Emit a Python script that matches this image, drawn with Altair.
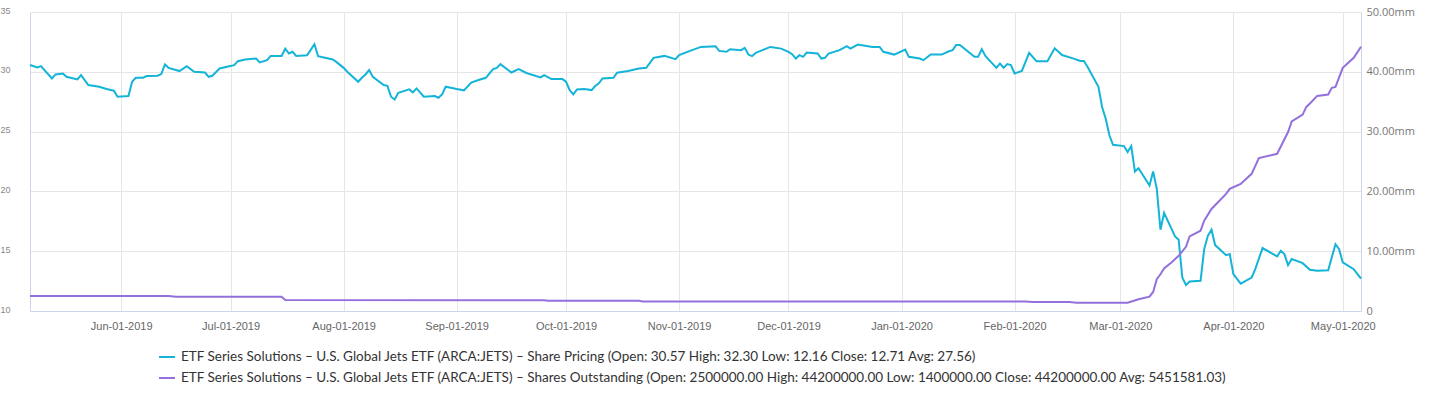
import altair as alt
import pandas as pd

# ---- data (days counted from 2019-05-07) ----
START = "2019-05-07"

price_day = [0, 2, 3, 6, 7, 9, 10, 13, 14, 16, 19, 21, 23, 24, 27, 28, 29, 31, 32, 35,
             36, 37, 38, 41, 43, 45, 48, 49, 50, 52, 54, 56, 57, 59, 62, 63, 65, 66, 69, 70,
             71, 72, 73, 76, 78, 79, 83, 84, 86, 87, 90, 91, 92, 93, 94, 97, 98, 99, 100, 101,
             104, 105, 106, 108, 111, 112, 113, 114, 117, 119, 121, 123, 125, 127, 128, 129, 132, 134, 136, 137,
             140, 141, 143, 146, 147, 148, 149, 150, 152, 154, 155, 156, 157, 160, 161, 164, 167, 169, 171, 174,
             177, 178, 181, 184, 188, 189, 191, 192, 195, 196, 197, 198, 199, 203, 206, 208, 209, 210, 211, 212,
             213, 216, 217, 218, 219, 222, 224, 225, 227, 231, 233, 234, 237, 240, 241, 244, 245, 247, 250, 252,
             253, 254, 255, 259, 260, 261, 262, 265, 266, 267, 268, 269, 270, 272, 274, 276, 279, 281, 283, 286,
             288, 289, 290, 293, 294, 295, 296, 297, 300, 301, 302, 303, 304, 307, 308, 309, 310, 311, 314, 315,
             316, 317, 318, 321, 322, 323, 324, 325, 328, 329, 330, 332, 335, 336, 338, 342, 343, 344, 345, 346,
             349, 351, 353, 356, 358, 359, 360, 363, 365]

price_value = [30.57, 30.36, 30.47, 29.44, 29.78, 29.86, 29.58, 29.36, 29.72, 28.89, 28.75, 28.56, 28.42, 27.92, 27.97, 29.17, 29.50, 29.50, 29.64, 29.67,
               29.81, 30.61, 30.33, 30.06, 30.47, 30.00, 29.94, 29.58, 29.67, 30.28, 30.42, 30.56, 30.89, 31.03, 31.11, 30.78, 30.97, 31.33, 31.33, 31.94,
               31.53, 31.67, 31.33, 31.39, 32.30, 31.31, 31.03, 30.83, 30.33, 30.00, 29.17, 29.50, 29.78, 30.14, 29.58, 28.89, 28.83, 27.92, 27.69, 28.25,
               28.53, 28.28, 28.61, 27.92, 27.97, 27.83, 28.11, 28.75, 28.56, 28.45, 29.10, 29.31, 29.50, 30.22, 30.33, 30.64, 29.94, 30.22, 29.92, 29.81,
               29.53, 29.72, 29.39, 29.39, 29.17, 28.47, 28.11, 28.53, 28.56, 28.47, 28.81, 29.03, 29.44, 29.50, 29.92, 30.06, 30.28, 30.33, 31.17, 31.33,
               31.06, 31.39, 31.75, 32.08, 32.14, 31.75, 31.67, 31.89, 31.81, 32.00, 31.44, 31.31, 31.58, 32.08, 31.94, 31.67, 31.47, 31.11, 31.39, 31.25,
               31.61, 31.53, 31.11, 31.17, 31.53, 31.81, 32.14, 31.94, 32.28, 32.08, 32.08, 31.67, 31.44, 31.86, 31.25, 31.11, 30.97, 31.44, 31.44, 31.72,
               31.81, 32.25, 32.25, 31.25, 31.25, 31.89, 31.33, 30.33, 30.69, 30.33, 30.64, 30.56, 29.86, 30.08, 31.58, 30.89, 30.89, 31.96, 31.40, 31.12,
               30.90, 30.90, 30.42, 28.74, 27.06, 26.08, 24.69, 23.90, 23.79, 23.29, 23.79, 21.66, 21.94, 20.49, 21.66, 20.21, 16.80, 18.20, 16.24, 15.96,
               12.80, 12.16, 12.46, 12.52, 15.17, 16.29, 16.80, 15.51, 14.67, 14.76, 13.08, 12.29, 12.80, 13.50, 15.26, 14.56, 15.03, 14.76, 13.83, 14.34,
               14.00, 13.44, 13.36, 13.41, 15.59, 15.17, 14.06, 13.50, 12.71]

shares_day = [0, 38, 40, 69, 70, 141, 142, 167, 168, 273, 275, 285, 287, 301, 304, 307, 308, 309, 310, 311,
              313, 315, 317, 318, 321, 322, 324, 328, 329, 332, 335, 337, 342, 345, 346, 349, 350, 351, 353, 356,
              357, 358, 360, 363, 365]

shares_mm = [2.5, 2.5, 2.4, 2.4, 1.85, 1.8, 1.7, 1.7, 1.6, 1.6, 1.5, 1.5, 1.4, 1.4, 1.96, 2.4, 3.19, 5.31, 6.15, 7.1,
             8.11, 9.23, 10.74, 12.48, 13.43, 15.1, 17.06, 19.58, 20.42, 21.26, 22.94, 25.57, 26.29, 29.93, 31.72, 32.84, 34.13, 34.69, 35.97, 36.2,
             37.31, 37.48, 40.67, 42.35, 44.2]

price_ticks = [10, 15, 20, 25, 30, 35]
shares_ticks_mm = [0, 10, 20, 30, 40, 50]
month_ticks = [(2019, 6), (2019, 7), (2019, 8), (2019, 9), (2019, 10), (2019, 11), (2019, 12),
               (2020, 1), (2020, 2), (2020, 3), (2020, 4), (2020, 5)]

PRICE_LABEL = ("ETF Series Solutions – U.S. Global Jets ETF (ARCA:JETS) – Share Pricing "
               "(Open: 30.57 High: 32.30 Low: 12.16 Close: 12.71 Avg: 27.56)")
SHARES_LABEL = ("ETF Series Solutions – U.S. Global Jets ETF (ARCA:JETS) – Shares Outstanding "
                "(Open: 2500000.00 High: 44200000.00 Low: 1400000.00 Close: 44200000.00 Avg: 5451581.03)")

# ---- tables ----
start = pd.Timestamp(START)
price_df = pd.DataFrame({
    "date": start + pd.to_timedelta(price_day, unit="D"),
    "value": price_value,
    "series": PRICE_LABEL,
})
shares_df = pd.DataFrame({
    "date": start + pd.to_timedelta(shares_day, unit="D"),
    "value": [v * 1e6 for v in shares_mm],
    "series": SHARES_LABEL,
})

GRID = "#e6e6e6"
AXIS_LINE = "#ccd6eb"

color = alt.Color(
    "series:N",
    scale=alt.Scale(domain=[PRICE_LABEL, SHARES_LABEL], range=["#14b4d8", "#9370db"]),
    legend=alt.Legend(
        title=None, orient="none", legendX=128, legendY=336, direction="vertical",
        symbolType="stroke", symbolSize=256, symbolStrokeWidth=2,
        labelFont="Lato", labelFontSize=13.5, labelColor="#333333", labelLimit=2000,
        rowPadding=5, padding=0, labelOffset=5,
    ),
)

x = alt.X(
    "date:T",
    scale=alt.Scale(domain=[alt.DateTime(year=2019, month=5, date=7),
                            alt.DateTime(year=2020, month=5, date=6)]),
    axis=alt.Axis(
        title=None,
        values=[alt.DateTime(year=y, month=m, date=1) for y, m in month_ticks],
        format="%b-%d-%Y", labelFont="Liberation Sans", labelFontSize=11,
        labelColor="#666666", ticks=False, labelPadding=9,
        domainColor=AXIS_LINE, grid=True, gridColor=GRID,
    ),
)

price = alt.Chart(price_df).mark_line(strokeWidth=2).encode(
    x=x,
    y=alt.Y(
        "value:Q",
        scale=alt.Scale(domain=[10, 35], nice=False, zero=False),
        axis=alt.Axis(
            title=None, orient="left", values=price_ticks, ticks=False,
            labelFont="Liberation Sans", labelFontSize=9, labelColor="#888888",
            labelPadding=20, labelOffset=-2, domainColor=AXIS_LINE,
            grid=True, gridColor=GRID,
        ),
    ),
    color=color,
)

shares = alt.Chart(shares_df).mark_line(strokeWidth=2).encode(
    x=x,
    y=alt.Y(
        "value:Q",
        scale=alt.Scale(domain=[0, 50e6], nice=False),
        axis=alt.Axis(
            title=None, orient="right", values=[v * 1e6 for v in shares_ticks_mm], ticks=False,
            labelExpr="datum.value == 0 ? '0' : format(datum.value / 1e6, '.2f') + 'mm'",
            labelFont="Open Sans", labelFontSize=11, labelColor="#777777",
            labelPadding=5, domainColor=AXIS_LINE, grid=False,
        ),
    ),
    color=color,
)

chart = (
    alt.layer(price, shares)
    .resolve_scale(y="independent")
    .properties(
        width=1331, height=299,
        padding={"left": 30, "top": 12, "right": 68, "bottom": 97},
        autosize=alt.AutoSizeParams(type="none"),
    )
    .configure_view(stroke=None)
)

chart.save("out.html", embed_options={"renderer": "svg", "actions": False})
